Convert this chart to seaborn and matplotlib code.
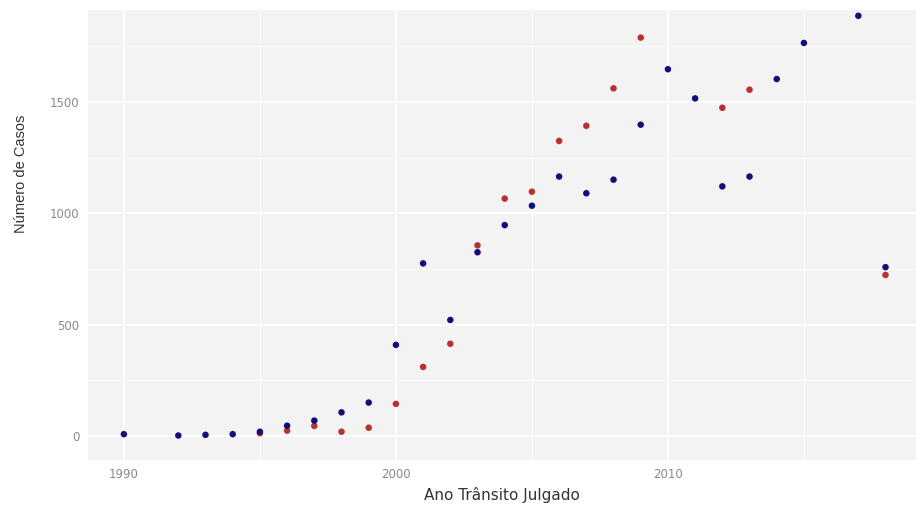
import numpy as np
import pandas as pd
import matplotlib
matplotlib.use("Agg")
import matplotlib.pyplot as plt
import seaborn as sns
from matplotlib.ticker import MultipleLocator

# Data
anos_azul = [1990, 1992, 1993, 1994, 1995, 1996, 1997, 1998, 1999, 2000,
             2001, 2002, 2003, 2004, 2005, 2006, 2007, 2008, 2009, 2010,
             2011, 2012, 2013, 2014, 2015, 2017, 2018]
casos_azul = [8, 2, 5, 8, 19, 46, 69, 106, 150, 409,
              775, 521, 825, 947, 1034, 1165, 1090, 1151, 1398, 1647,
              1516, 1121, 1165, 1603, 1765, 1887, 758]

anos_vermelho = [1995, 1996, 1997, 1998, 1999, 2000, 2001, 2002, 2003, 2004,
                 2005, 2006, 2007, 2008, 2009, 2012, 2013, 2018]
casos_vermelho = [12, 24, 45, 19, 37, 144, 310, 414, 856, 1066,
                  1097, 1325, 1393, 1561, 1789, 1474, 1555, 723]

x_ticks = [1990, 2000, 2010]
y_ticks = [0, 500, 1000, 1500]

df = pd.concat([
    pd.DataFrame({"ano": anos_vermelho, "casos": casos_vermelho, "serie": "vermelho"}),
    pd.DataFrame({"ano": anos_azul, "casos": casos_azul, "serie": "azul"}),
], ignore_index=True)

sns.set_theme(style="darkgrid", rc={
    "axes.facecolor": "#F3F3F3",
    "grid.color": "white",
    "figure.facecolor": "white",
})

fig = plt.figure(figsize=(9.16, 5.09), dpi=100)
ax = fig.add_axes([88 / 916, 49 / 509, (916 - 88) / 916, 450 / 509])

sns.scatterplot(data=df, x="ano", y="casos", hue="serie",
                palette={"vermelho": "#B8312F", "azul": "#10107A"},
                s=22, edgecolor="none", legend=False, ax=ax)

ax.set_xlim(1988.68, 2019.12)
ax.set_ylim(-108, 1913)
ax.set_xticks(x_ticks)
ax.set_yticks(y_ticks)
ax.xaxis.set_minor_locator(MultipleLocator(5))
ax.yaxis.set_minor_locator(MultipleLocator(250))
ax.grid(which="major", color="white", linewidth=1.3)
ax.grid(which="minor", color="white", linewidth=0.7, alpha=0.8)
for s in ax.spines.values():
    s.set_visible(False)

ax.tick_params(axis="both", which="major", length=3, width=0.8, color="#999999",
               labelsize=8.5, labelcolor="#8A8A8A", pad=3)
ax.tick_params(axis="both", which="minor", length=0)

ax.set_xlabel("Ano Trânsito Julgado", fontsize=11, color="#333333",
              family=["DejaVu Sans"], labelpad=4)
ax.set_ylabel("Número de Casos", fontsize=10.5, color="#333333",
              family=["Liberation Sans Narrow", "Liberation Sans", "DejaVu Sans"])
ax.yaxis.set_label_coords(-0.0725, 0.636)

fig.savefig("out.png", dpi=100)
